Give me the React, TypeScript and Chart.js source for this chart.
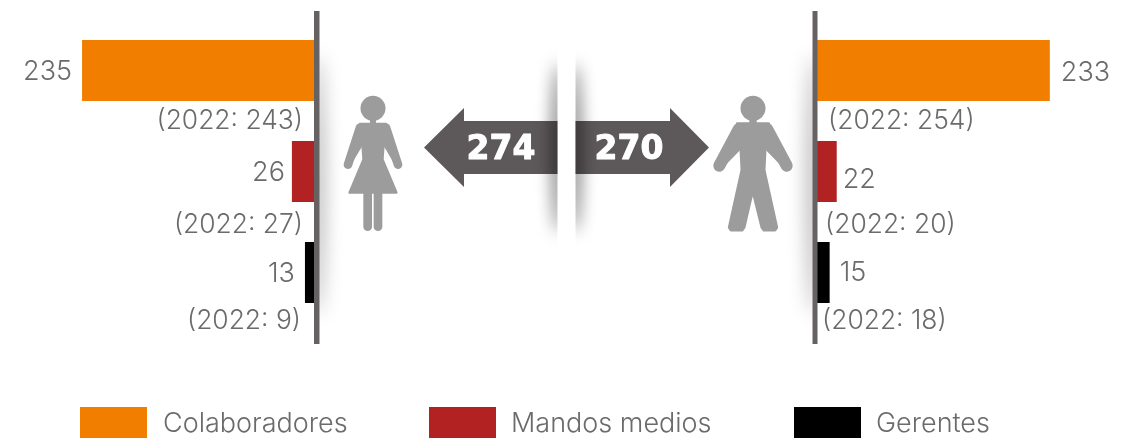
import React, { useEffect, useRef } from "react";
import { Chart, registerables } from "chart.js";

Chart.register(...registerables);

const categories = ["Colaboradores", "Mandos medios", "Gerentes"];
const colors = ["#f27e00", "#b22222", "#000000"];
const women = [235, 26, 13];
const men = [233, 22, 15];
const women2022 = [243, 27, 9];
const men2022 = [254, 20, 18];
const womenTotal = "274";
const menTotal = "270";

const FONT = "Inter";
const TEXT = "#6b6b6b";
const ARROW = "#5d5859";
const FIG = "#9c9c9c";

// label offsets relative to bar end (dx) and bar centre (dy)
const leftValueGap = [10, 7, 10];
const rightValueGap = [11, 6, 10];
const rightValueDy = [2, 8, 0];
const leftPrevX = [303, 303, 301];
const rightPrevX = [828, 825, 822];
const prevY = [121, 225, 321];

function softShadow(ctx: CanvasRenderingContext2D, clipX: number, clipW: number, cx: number, cy: number, rx: number, ry: number, blur: number, alpha: number) {
  ctx.save();
  ctx.beginPath();
  ctx.rect(clipX, 0, clipW, 440);
  ctx.clip();
  ctx.filter = `blur(${blur}px)`;
  ctx.fillStyle = `rgba(0,0,0,${alpha})`;
  ctx.beginPath();
  ctx.ellipse(cx, cy, rx, ry, 0, 0, Math.PI * 2);
  ctx.fill();
  ctx.restore();
}

function poly(ctx: CanvasRenderingContext2D, ox: number, oy: number, pts: number[][], round = 0) {
  ctx.beginPath();
  pts.forEach(([x, y], i) => {
    const px = ox + x / 3, py = oy + y / 3;
    if (i) ctx.lineTo(px, py); else ctx.moveTo(px, py);
  });
  ctx.closePath();
  ctx.fill();
  if (round) { ctx.lineWidth = round; ctx.stroke(); }
}

function seg(ctx: CanvasRenderingContext2D, ox: number, oy: number, a: number[], b: number[], w: number) {
  ctx.lineWidth = w / 3;
  ctx.lineCap = "round";
  ctx.beginPath();
  ctx.moveTo(ox + a[0] / 3, oy + a[1] / 3);
  ctx.lineTo(ox + b[0] / 3, oy + b[1] / 3);
  ctx.stroke();
}

function drawWoman(ctx: CanvasRenderingContext2D) {
  const ox = 340, oy = 40;
  ctx.fillStyle = FIG; ctx.strokeStyle = FIG; ctx.lineJoin = "round";
  ctx.beginPath(); ctx.arc(ox + 99 / 3, oy + 205 / 3, 12.5, 0, Math.PI * 2); ctx.fill();
  poly(ctx, ox, oy, [[90, 235], [108, 235], [108, 250], [90, 250]]);
  poly(ctx, ox, oy, [[60, 251], [138, 251], [131, 318], [128, 358], [170, 458], [28, 458], [70, 358], [67, 318]], 2);
  seg(ctx, ox, oy, [60, 263], [24, 374], 26);
  seg(ctx, ox, oy, [138, 263], [174, 374], 26);
  poly(ctx, ox, oy, [[52, 262], [36, 370], [67, 318], [75, 260]]);
  poly(ctx, ox, oy, [[146, 262], [162, 370], [131, 318], [123, 260]]);
  seg(ctx, ox, oy, [83, 462], [83, 560], 26);
  seg(ctx, ox, oy, [114, 462], [114, 560], 26);
}

function drawMan(ctx: CanvasRenderingContext2D) {
  const ox = 560, oy = 40;
  ctx.fillStyle = FIG; ctx.strokeStyle = FIG; ctx.lineJoin = "round";
  ctx.beginPath(); ctx.arc(ox + 579 / 3, oy + 205 / 3, 12.5, 0, Math.PI * 2); ctx.fill();
  poly(ctx, ox, oy, [[568, 235], [590, 235], [590, 250], [568, 250]]);
  poly(ctx, ox, oy, [[532, 251], [626, 251], [615, 328], [612, 390], [650, 562], [645, 570], [612, 570], [606, 562], [578, 450], [552, 562], [546, 570], [513, 570], [508, 562], [546, 390], [543, 328]], 3);
  seg(ctx, ox, oy, [536, 268], [478, 377], 36);
  seg(ctx, ox, oy, [622, 268], [680, 377], 36);
  poly(ctx, ox, oy, [[540, 255], [494, 378], [543, 328], [560, 255]]);
  poly(ctx, ox, oy, [[618, 255], [664, 378], [615, 328], [598, 255]]);
}

function drawArrow(ctx: CanvasRenderingContext2D, base: number, neck: number, tip: number) {
  ctx.fillStyle = ARROW;
  ctx.beginPath();
  ctx.moveTo(base, 121);
  ctx.lineTo(neck, 121);
  ctx.lineTo(neck, 108);
  ctx.lineTo(tip, 147.5);
  ctx.lineTo(neck, 187);
  ctx.lineTo(neck, 174);
  ctx.lineTo(base, 174);
  ctx.closePath();
  ctx.fill();
}

const decor = {
  id: "decor",
  afterDatasetsDraw(chart: any) {
    const ctx: CanvasRenderingContext2D = chart.ctx;
    ctx.save();

    // soft shadows of the dividers
    softShadow(ctx, 319, 40, 318, 185, 6, 130, 9, 0.33);
    softShadow(ctx, 775, 38, 813, 185, 6, 130, 9, 0.33);

    // divider lines
    ctx.fillStyle = "#666264";
    ctx.fillRect(314, 11, 5.5, 333);
    ctx.fillRect(812.5, 11, 5, 333);

    // arrows, with the centre shadows over them
    drawArrow(ctx, 557.5, 464, 424);
    drawArrow(ctx, 575.5, 670, 709);
    softShadow(ctx, 520, 37.5, 558, 148, 6, 85, 8, 0.55);
    softShadow(ctx, 575.5, 40, 575, 148, 6, 85, 8, 0.55);
    ctx.textBaseline = "middle";
    ctx.textAlign = "center";
    ctx.fillStyle = "#ffffff";
    ctx.strokeStyle = "#ffffff";
    ctx.lineWidth = 1;
    ctx.lineJoin = "round";
    ctx.font = `bold 33px "DejaVu Sans"`;
    ctx.fillText(womenTotal, 501, 150);
    ctx.strokeText(womenTotal, 501, 150);
    ctx.fillText(menTotal, 629, 150);
    ctx.strokeText(menTotal, 629, 150);

    // figures
    drawWoman(ctx);
    drawMan(ctx);

    // labels
    const xL = chart.scales.xL, xR = chart.scales.xR, y = chart.scales.y;
    ctx.fillStyle = TEXT;
    categories.forEach((_, i) => {
      const cy = y.getPixelForValue(i);
      ctx.font = `300 27px ${FONT}`;
      ctx.textAlign = "right";
      ctx.fillText(String(women[i]), xL.getPixelForValue(women[i]) - leftValueGap[i], cy + 1);
      ctx.textAlign = "left";
      ctx.fillText(String(men[i]), xR.getPixelForValue(men[i]) + rightValueGap[i], cy + rightValueDy[i]);
      ctx.font = `300 26.4px ${FONT}`;
      ctx.textAlign = "right";
      ctx.fillText(`(2022: ${women2022[i]})`, leftPrevX[i], prevY[i]);
      ctx.textAlign = "left";
      ctx.fillText(`(2022: ${men2022[i]})`, rightPrevX[i], prevY[i]);
    });

    // legend
    const legendBox = [80, 429, 794];
    const legendText = [163, 511, 876];
    ctx.textAlign = "left";
    ctx.font = `300 27px ${FONT}`;
    categories.forEach((c, i) => {
      ctx.fillStyle = colors[i];
      ctx.fillRect(legendBox[i], 407, 67, 31);
      ctx.fillStyle = TEXT;
      ctx.fillText(c, legendText[i], 424);
    });
    ctx.restore();
  },
};

export default function App() {
  const ref = useRef<HTMLCanvasElement>(null);
  useEffect(() => {
    document.body.style.margin = "0";
    const chart = new Chart(ref.current!, {
      type: "bar",
      data: {
        labels: categories,
        datasets: [
          { label: "Mujeres", data: women, backgroundColor: colors, xAxisID: "xL", barPercentage: 61 / 101, categoryPercentage: 1, grouped: false } as any,
          { label: "Hombres", data: men, backgroundColor: colors, xAxisID: "xR", barPercentage: 61 / 101, categoryPercentage: 1, grouped: false } as any,
        ],
      },
      options: {
        indexAxis: "y",
        animation: false,
        responsive: false,
        layout: { padding: { top: 20, bottom: 117, left: 0, right: 0 } },
        plugins: { legend: { display: false }, tooltip: { enabled: false } },
        scales: {
          y: { display: false, grid: { display: false } },
          xL: { display: false, reverse: true, min: -(1126 - 318) / 1.004, max: 318 / 1.004 },
          xR: { display: false, min: -814.5 / 1.01, max: (1126 - 814.5) / 1.01 },
        },
      } as any,
      plugins: [decor],
    });
    return () => chart.destroy();
  }, []);
  return <canvas ref={ref} width={1126} height={440} style={{ display: "block", background: "#fff" }} />;
}
